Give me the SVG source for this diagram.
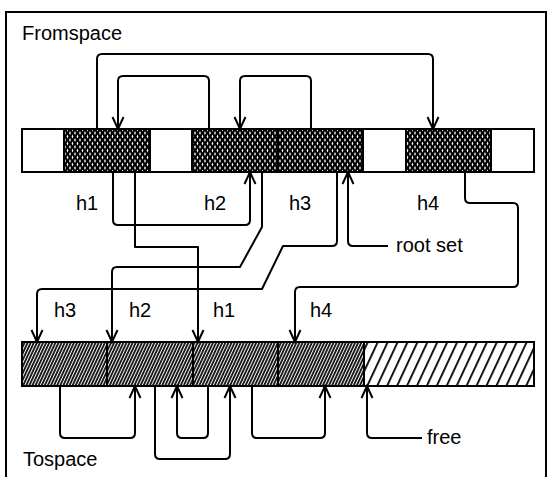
<svg xmlns="http://www.w3.org/2000/svg" width="548" height="477" viewBox="0 0 548 477">
<style>
.lbl{font-family:"Liberation Sans",Arial,sans-serif;font-size:20px;fill:#000}
.con{fill:none;stroke:#000;stroke-width:2;stroke-linejoin:round}
.arr{marker-end:url(#ah)}
.edge{fill:none;stroke:#000;stroke-width:2}
</style>
<defs>
<marker id="ah" markerUnits="userSpaceOnUse" viewBox="-14 -8 16 16" refX="0" refY="0" markerWidth="16" markerHeight="16" orient="auto">
<path d="M-12,-5.5 L0,0 L-12,5.5" fill="none" stroke="#000" stroke-width="2"/>
</marker>
<pattern id="diam" width="5" height="7" patternUnits="userSpaceOnUse">
<rect width="5" height="7" fill="#000"/>
<path d="M2.5,1.5 L3.4,3.5 L2.5,5.5 L1.6,3.5Z M0,-2 L0.9,0 L0,2 L-0.9,0Z M5,-2 L5.9,0 L5,2 L4.1,0Z M0,5 L0.9,7 L0,9 L-0.9,7Z M5,5 L5.9,7 L5,9 L4.1,7Z" fill="#fff"/>
</pattern>
<pattern id="dense" width="2.8" height="10" patternUnits="userSpaceOnUse" patternTransform="rotate(25)">
<rect width="2.8" height="10" fill="#1a1a1a"/>
<rect width="0.9" height="10" fill="#fff"/>
</pattern>
<pattern id="coarse" width="9" height="10" patternUnits="userSpaceOnUse" patternTransform="rotate(25)">
<rect width="9" height="10" fill="#fff"/>
<rect width="1.8" height="10" fill="#000"/>
</pattern>
</defs>
<rect x="6" y="12" width="540" height="475" fill="#fff" stroke="#000" stroke-width="2"/>
<text class="lbl" x="22" y="40">Fromspace</text>
<text class="lbl" x="23" y="466">Tospace</text>
<g id="fromspace">
<rect x="22" y="129" width="512" height="43" fill="#fff"/>
<rect x="64" y="129" width="86" height="43" fill="url(#diam)"/>
<rect x="192" y="129" width="171" height="43" fill="url(#diam)"/>
<rect x="406" y="129" width="85" height="43" fill="url(#diam)"/>
<rect class="edge" x="22" y="129" width="512" height="43"/>
<path class="edge" d="M64,129 V172 M150,129 V172 M192,129 V172 M278,129 V172 M363,129 V172 M406,129 V172 M491,129 V172"/>
</g>
<g id="tospace">
<rect x="22" y="342" width="512" height="44" fill="url(#coarse)"/>
<rect x="22" y="342" width="342" height="44" fill="url(#dense)"/>
<rect class="edge" x="22" y="342" width="512" height="44"/>
<path class="edge" d="M107,342 V386 M193,342 V386 M278,342 V386 M364,342 V386"/>
</g>
<g id="labels">
<text class="lbl" x="76" y="210">h1</text>
<text class="lbl" x="204" y="210">h2</text>
<text class="lbl" x="289" y="210">h3</text>
<text class="lbl" x="417" y="210">h4</text>
<text class="lbl" x="54" y="317">h3</text>
<text class="lbl" x="129" y="317">h2</text>
<text class="lbl" x="213" y="317">h1</text>
<text class="lbl" x="310" y="317">h4</text>
<text class="lbl" x="396" y="252">root set</text>
<text class="lbl" x="427" y="444">free</text>
</g>
<g id="connectors">
<path class="con arr" d="M97,129 V59 Q97,54 102,54 H428 Q433,54 433,59 V129"/>
<path class="con arr" d="M209,129 V81 Q209,76 204,76 H123 Q118,76 118,81 V129"/>
<path class="con arr" d="M311,129 V81 Q311,76 306,76 H245 Q240,76 240,81 V129"/>
<path class="con arr" d="M113,172 V220 Q113,225 118,225 H245 Q250,225 250,220 V172"/>
<path class="con arr" d="M135,172 V247 H198 V342"/>
<path class="con arr" d="M262,172 V227 L240,267 H117 Q112,267 112,272 V342"/>
<path class="con arr" d="M337,172 V241 Q337,246 332,246 H283 L262,289 H42 Q37,289 37,294 V342"/>
<path class="con arr" d="M388,246 H353 Q348,246 348,241 V172"/>
<path class="con arr" d="M465,172 V198 Q465,203 470,203 H513 Q518,203 518,208 V282 Q518,287 513,287 H300 Q295,287 295,292 V342"/>
<path class="con arr" d="M60,386 V433 Q60,438 65,438 H130 Q135,438 135,433 V386"/>
<path class="con arr" d="M155,386 V454 Q155,459 160,459 H225 Q230,459 230,454 V386"/>
<path class="con arr" d="M208,386 V433 Q208,438 203,438 H182 Q177,438 177,433 V386"/>
<path class="con arr" d="M252,386 V433 Q252,438 257,438 H320 Q325,438 325,433 V386"/>
<path class="con arr" d="M422,438 H372 Q367,438 367,433 V386"/>
</g>
</svg>
